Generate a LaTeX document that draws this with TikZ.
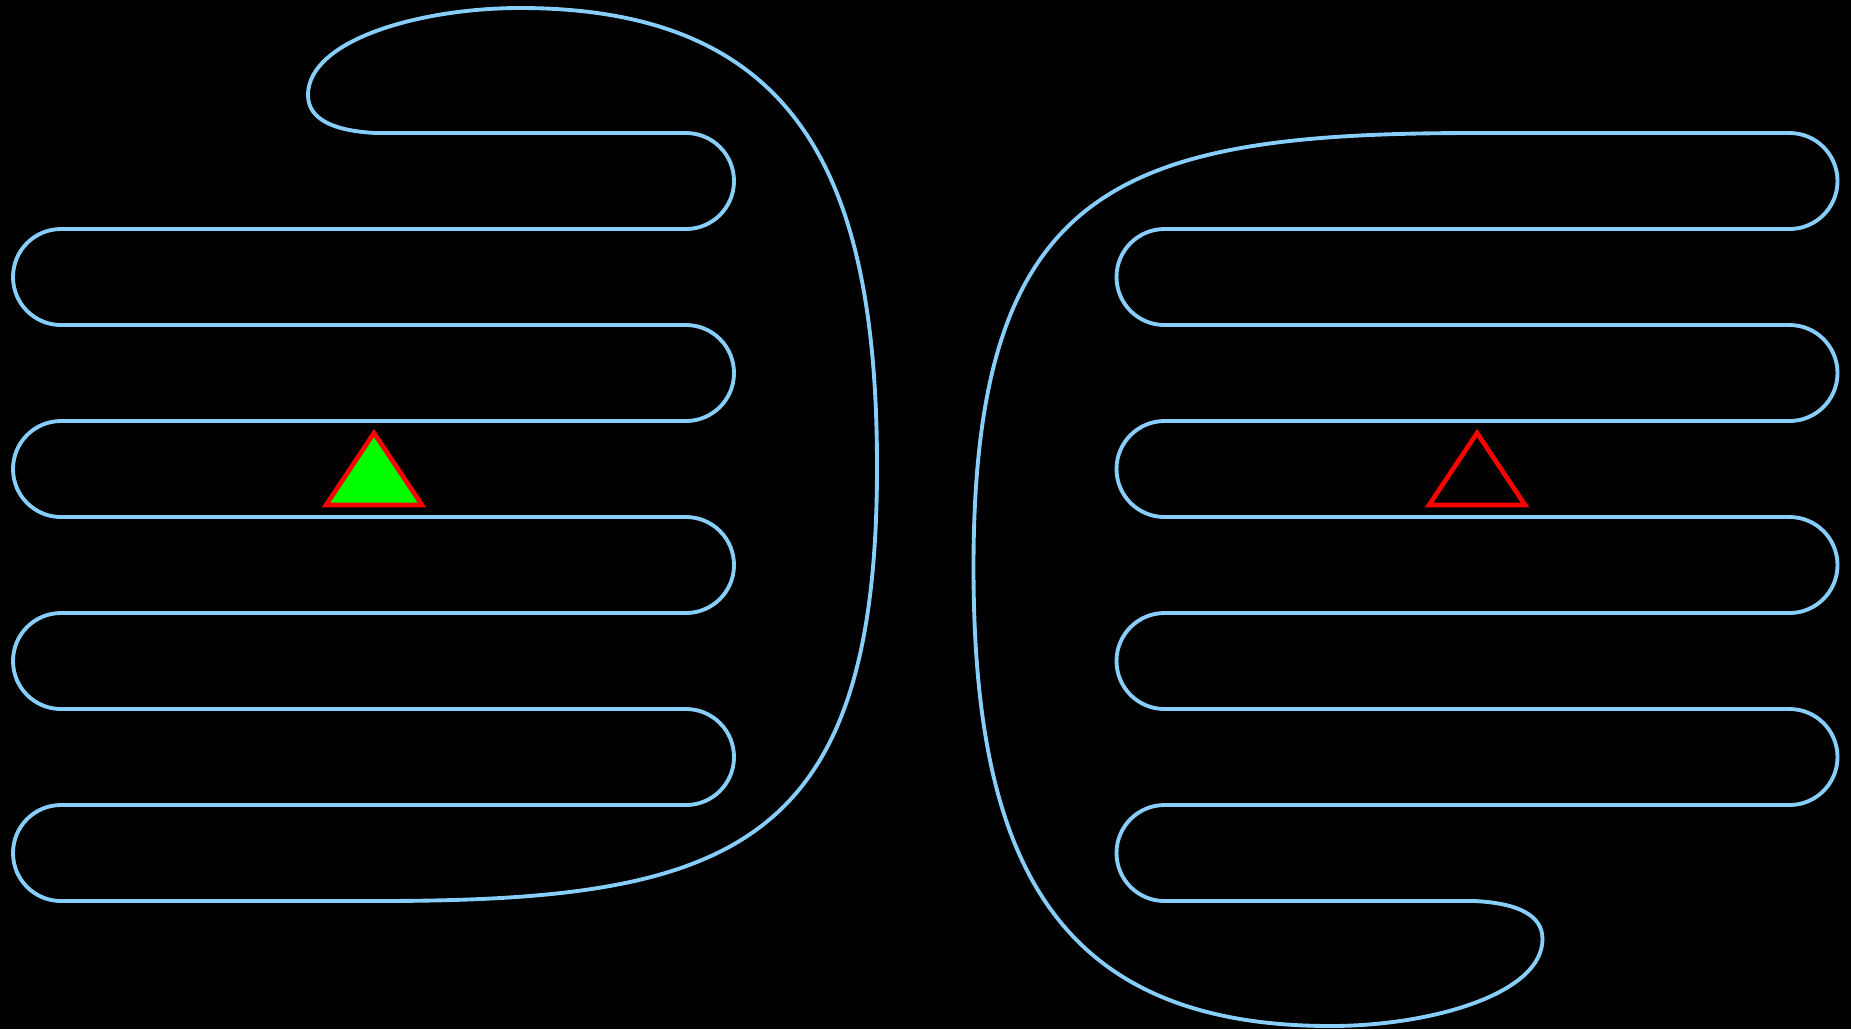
\documentclass[tikz,border=0pt]{standalone}
\definecolor{wireblue}{RGB}{135,206,250}
\definecolor{trigreen}{RGB}{0,255,0}
\tikzset{
  wire/.style={draw=wireblue, line width=1.1pt, line join=round},
  tri/.style={draw=red, line width=1.3pt, line join=miter},
  comb/.pic={
    \draw[wire] (376,-133) -- (686,-133) arc[start angle=90,end angle=-90,radius=48]
      -- (61,-229) arc[start angle=90,end angle=270,radius=48]
      -- (686,-325) arc[start angle=90,end angle=-90,radius=48]
      -- (61,-421) arc[start angle=90,end angle=270,radius=48]
      -- (686,-517) arc[start angle=90,end angle=-90,radius=48]
      -- (61,-613) arc[start angle=90,end angle=270,radius=48]
      -- (686,-709) arc[start angle=90,end angle=-90,radius=48]
      -- (61,-805) arc[start angle=90,end angle=270,radius=48]
      -- (376,-901)
      .. controls (730,-901) and (877,-850) .. (877,-467)
      .. controls (877,-180) and (800,-8) .. (520,-8)
      .. controls (420,-8) and (308,-40) .. (308,-95)
      .. controls (308,-120) and (335,-131) .. (376,-133) -- cycle;
  }
}
\begin{document}
\begin{tikzpicture}[x=0.01cm,y=0.01cm]
  \fill[black] (0,0) rectangle (1851,-1029);
  \useasboundingbox (0,0) rectangle (1851,-1029);
  \pic at (0,0) {comb};
  \pic[rotate=180] at (1850.5,-1034) {comb};
  \filldraw[tri, fill=trigreen] (374,-433) -- (422,-505) -- (326,-505) -- cycle;
  \draw[tri] (1477,-433) -- (1525,-505) -- (1429,-505) -- cycle;
\end{tikzpicture}
\end{document}
